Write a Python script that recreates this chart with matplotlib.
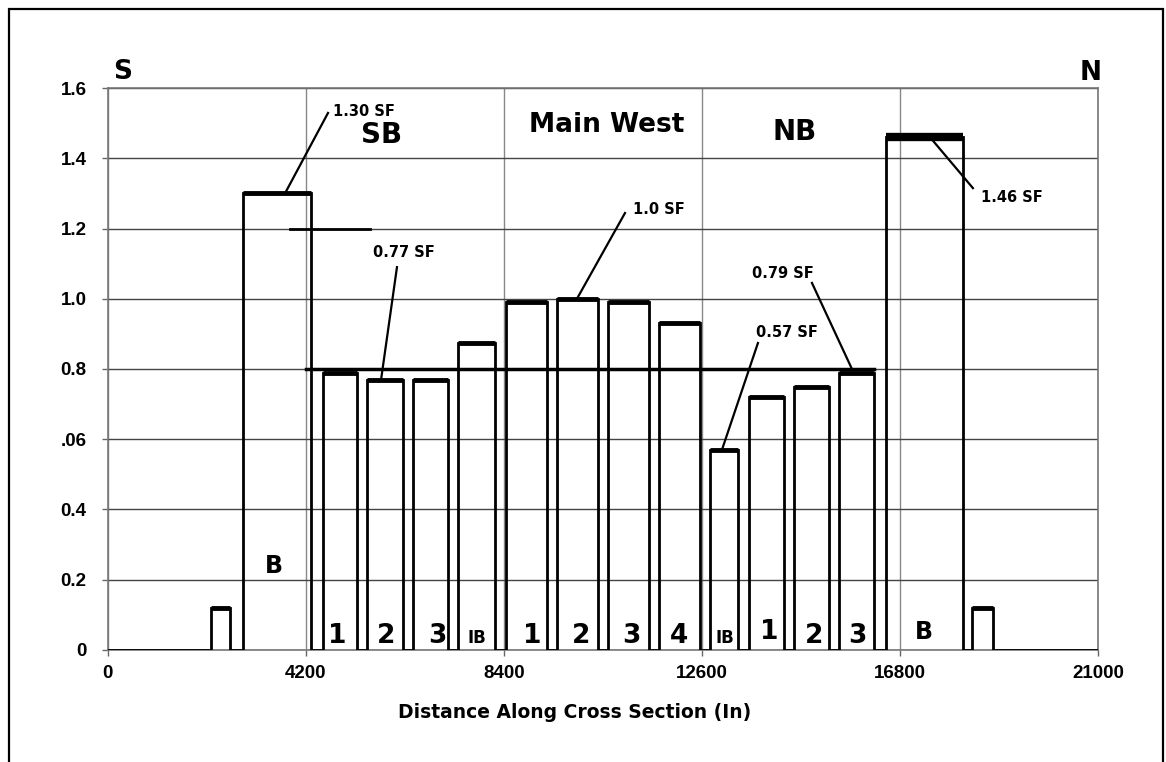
import matplotlib
matplotlib.use("Agg")
import matplotlib.pyplot as plt
from matplotlib.patches import Rectangle

# --- data ---
# entries along the section (S -> N): left edge, right edge, stress factor
box_left = [2200, 2870, 4570, 5500, 6480, 7430, 8450, 9530, 10610, 11690,
            12770, 13600, 14550, 15510, 16500, 18330]
box_right = [2600, 4310, 5290, 6260, 7220, 8220, 9320, 10400, 11480, 12560,
             13370, 14340, 15300, 16250, 18140, 18770]
box_height = [0.12, 1.30, 0.79, 0.77, 0.77, 0.875, 0.99, 1.00, 0.99, 0.93,
              0.57, 0.72, 0.75, 0.79, 1.46, 0.12]

x_max = 21000
avg_line_x = [4200, 16250]
avg_line_y = 0.80
short_line_x = [3860, 5555]
short_line_y = 1.20

x_ticks = [0, 4200, 8400, 12600, 16800, 21000]
y_ticks = [0, 0.2, 0.4, 0.6, 0.8, 1.0, 1.2, 1.4, 1.6]
y_tick_labels = ["0", "0.2", "0.4", ".06", "0.8", "1.0", "1.2", "1.4", "1.6"]

entry_labels = ["1", "2", "3", "IB", "1", "2", "3", "4", "IB", "1", "2", "3"]
entry_label_x = [4876, 5904, 6985, 7833, 9000, 10038, 11098, 12116, 13090,
                 14023, 14977, 15889]

# build the step profile from the boxes
xs, ys = [0], [0]
for l, r, h in zip(box_left, box_right, box_height):
    xs += [l, l, r, r]
    ys += [0, h, h, 0]
xs.append(x_max)
ys.append(0)

HEAVY = "DejaVu Sans"
TICKF = "Liberation Sans"

fig = plt.figure(figsize=(11.66, 7.62), dpi=100)
fig.patches.append(Rectangle((0.0077, -0.02), 0.9897, 1.008, transform=fig.transFigure,
                             fill=False, edgecolor="black", linewidth=1.6))
ax = fig.add_axes([0.0922, 0.147, 0.8495, 0.7375])

ax.set_xlim(0, x_max)
ax.set_ylim(0, 1.6)
ax.set_xticks(x_ticks)
ax.set_yticks(y_ticks)
ax.set_yticklabels(y_tick_labels)
for lab in ax.get_xticklabels() + ax.get_yticklabels():
    lab.set_fontfamily(TICKF)
    lab.set_fontweight("bold")
    lab.set_fontsize(13.5)
ax.tick_params(axis="x", length=4, width=1, color="#666666", pad=7)
ax.tick_params(axis="y", length=4, width=1, color="#666666", pad=11)
ax.grid(True, axis="y", color="#444444", linewidth=1.0)
ax.grid(True, axis="x", color="#888888", linewidth=1.0)
ax.set_axisbelow(True)
for s in ax.spines.values():
    s.set_color("#777777")
    s.set_linewidth(1.2)

# profile
ax.plot(xs, ys, color="black", linewidth=2.0, solid_joinstyle="miter", zorder=3)
for l, r, h in zip(box_left, box_right, box_height):
    lw = 6 if h > 1.4 else 3.5
    ax.plot([l, r], [h, h], color="black", linewidth=lw, solid_capstyle="butt", zorder=4)

ax.plot(avg_line_x, [avg_line_y, avg_line_y], color="black", linewidth=2.5, zorder=4)
ax.plot(short_line_x, [short_line_y, short_line_y], color="black", linewidth=2.0, zorder=4)

# annotations
ann = dict(fontfamily=HEAVY, fontweight="bold", fontsize=10.5, va="center", zorder=5)
def callout(text, tx, ty, x0, y0, x1, y1, ha="center"):
    ax.plot([x0, x1], [y0, y1], color="black", linewidth=1.6, zorder=5)
    ax.text(tx, ty, text, ha=ha, **ann)

callout("1.30 SF", 4781, 1.532, 3763, 1.30, 4675, 1.529, ha="left")
callout("0.77 SF", 6286, 1.133, 6137, 1.09, 5800, 0.77)
callout("1.0 SF", 11692, 1.255, 10971, 1.244, 9953, 1.00)
callout("0.79 SF", 14320, 1.073, 14935, 1.045, 15783, 0.80)
callout("0.57 SF", 14405, 0.9025, 13790, 0.874, 13027, 0.57)
callout("1.46 SF", 19174, 1.287, 17437, 1.46, 18348, 1.315)

big = dict(fontfamily=HEAVY, fontweight="bold", ha="center", va="center", zorder=5)
ax.text(5820, 1.466, "SB", fontsize=20, **big)
ax.text(10590, 1.495, "Main West", fontsize=19, **big)
ax.text(14575, 1.475, "NB", fontsize=20, **big)
ax.text(3530, 0.239, "B", fontsize=17, **big)
ax.text(17310, 0.051, "B", fontsize=17, **big)
for lab, x in zip(entry_labels, entry_label_x):
    if lab == "IB":
        ax.text(x, 0.034, lab, fontsize=12, **big)
    else:
        yy = 0.05 if x == 14023 else 0.04
        ax.text(x, yy, lab, fontsize=19, **big)

ax.text(0.0157, 1.028, "S", transform=ax.transAxes, fontsize=19, clip_on=False, **big)
ax.text(0.993, 1.027, "N", transform=ax.transAxes, fontsize=19, clip_on=False, **big)

ax.set_xlabel("Distance Along Cross Section (In)", fontfamily=HEAVY, fontweight="bold",
              fontsize=13.5)
ax.xaxis.set_label_coords(0.472, -0.095)

fig.savefig("out.png", dpi=100)
